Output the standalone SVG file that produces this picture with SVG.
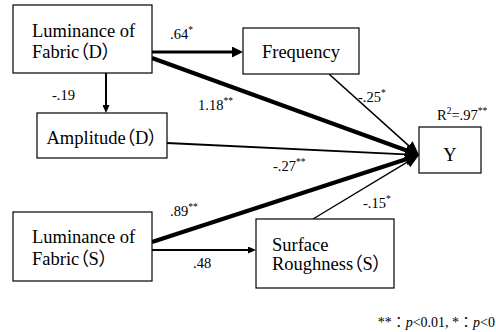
<svg xmlns="http://www.w3.org/2000/svg" width="496" height="332" viewBox="0 0 496 332">
<style>
.box{fill:#fff;stroke:#000;stroke-width:1.2}
.nt{font-family:'Liberation Serif','Times New Roman','Noto Sans CJK JP',serif;font-size:18.5px;fill:#000;font-feature-settings:"palt"}
.lb{font-family:'Liberation Serif','Times New Roman','Noto Sans CJK JP',serif;font-size:14.5px;fill:#000}
.sup{font-size:9.5px}
.ln{fill:none;stroke:#000}
</style>
<defs>
<marker id="ahY" markerUnits="userSpaceOnUse" markerWidth="14" markerHeight="12" refX="6" refY="6" orient="auto"><path d="M0,0 L14,6 L0,12 z" fill="#000"/></marker>
<marker id="ahM" markerUnits="userSpaceOnUse" markerWidth="11" markerHeight="11" refX="3" refY="5.5" orient="auto"><path d="M0,0 L11,5.5 L0,11 z" fill="#000"/></marker>
<marker id="ahS" markerUnits="userSpaceOnUse" markerWidth="8" markerHeight="7" refX="3" refY="3.5" orient="auto"><path d="M0,0 L8,3.5 L0,7 z" fill="#000"/></marker>
</defs>
<rect width="496" height="332" fill="#fff"/>
<g id="connectors">
<line class="ln" x1="152" y1="52" x2="235" y2="52" stroke-width="3.2" marker-end="url(#ahM)"/>
<line class="ln" x1="106" y1="73" x2="106" y2="108" stroke-width="2" marker-end="url(#ahS)"/>
<line class="ln" x1="152" y1="250" x2="251" y2="250" stroke-width="2" marker-end="url(#ahS)"/>
<line class="ln" x1="152" y1="58" x2="411.5" y2="152.3" stroke-width="4.2" marker-end="url(#ahY)"/>
<line class="ln" x1="329" y1="74" x2="413.1" y2="149.6" stroke-width="1.6" marker-end="url(#ahY)"/>
<line class="ln" x1="167" y1="143" x2="411" y2="154.6" stroke-width="1.8" marker-end="url(#ahY)"/>
<line class="ln" x1="152" y1="242" x2="411.4" y2="157.5" stroke-width="4.2" marker-end="url(#ahY)"/>
<line class="ln" x1="313" y1="219" x2="412.2" y2="159.1" stroke-width="1.4" marker-end="url(#ahY)"/>
</g>
<g id="lumD">
<rect class="box" x="13" y="5" width="139" height="68"/>
<text class="nt" x="32" y="37">Luminance of</text>
<text class="nt" x="32" y="58">Fabric（D）</text>
</g>
<g id="freq">
<rect class="box" x="243" y="28" width="116" height="46"/>
<text class="nt" x="301" y="58" text-anchor="middle">Frequency</text>
</g>
<g id="ampD">
<rect class="box" x="37" y="113" width="130" height="45"/>
<text class="nt" x="102" y="144" text-anchor="middle">Amplitude（D）</text>
</g>
<g id="y">
<rect class="box" x="419" y="127" width="62" height="46"/>
<text class="nt" x="450" y="161" text-anchor="middle">Y</text>
</g>
<g id="lumS">
<rect class="box" x="13" y="212" width="139" height="69"/>
<text class="nt" x="32" y="243">Luminance of</text>
<text class="nt" x="32" y="265">Fabric（S）</text>
</g>
<g id="surf">
<rect class="box" x="256" y="219" width="138" height="69"/>
<text class="nt" x="272" y="251">Surface</text>
<text class="nt" x="272" y="270">Roughness（S）</text>
</g>
<g id="labels">
<text class="lb" x="170" y="39">.64<tspan class="sup" dy="-6">*</tspan></text>
<text class="lb" x="52" y="100">-.19</text>
<text class="lb" x="198" y="110">1.18<tspan class="sup" dy="-6">**</tspan></text>
<text class="lb" x="358" y="102">-.25<tspan class="sup" dy="-6">*</tspan></text>
<text class="lb" x="437" y="120">R<tspan class="sup" dy="-6">2</tspan><tspan dy="6">=.97</tspan><tspan class="sup" dy="-6">**</tspan></text>
<text class="lb" x="273" y="171">-.27<tspan class="sup" dy="-6">**</tspan></text>
<text class="lb" x="170" y="216">.89<tspan class="sup" dy="-6">**</tspan></text>
<text class="lb" x="363" y="208">-.15<tspan class="sup" dy="-6">*</tspan></text>
<text class="lb" x="193" y="268">.48</text>
<text class="lb" x="495" y="327" text-anchor="end" style="font-size:14px">**：<tspan font-style="italic">p</tspan>&lt;0.01, *：<tspan font-style="italic">p</tspan>&lt;0</text>
</g>
</svg>
